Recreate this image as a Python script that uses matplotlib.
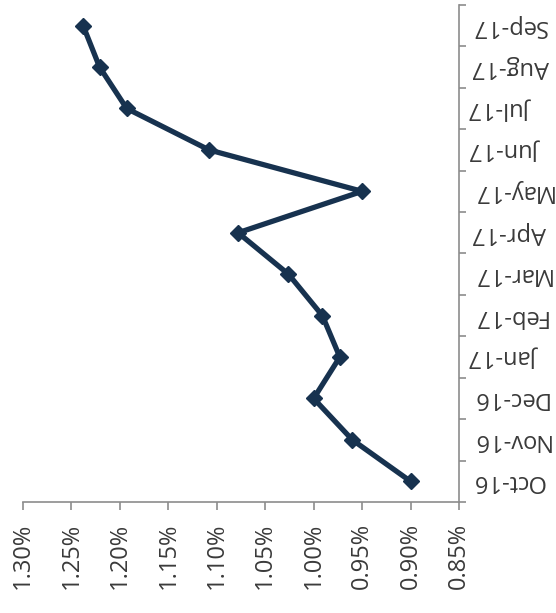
import numpy as np
import matplotlib
matplotlib.use("Agg")
from matplotlib import pyplot as plt
from matplotlib.ticker import FixedLocator

# monthly rate, Oct-16 .. Sep-17
months = ["Oct-16", "Nov-16", "Dec-16", "Jan-17", "Feb-17", "Mar-17",
          "Apr-17", "May-17", "Jun-17", "Jul-17", "Aug-17", "Sep-17"]
rates = [0.90, 0.96, 1.00, 0.973, 0.991, 1.026,
         1.078, 0.95, 1.108, 1.193, 1.221, 1.238]
value_ticks = [1.30, 1.25, 1.20, 1.15, 1.10, 1.05, 1.00, 0.95, 0.90, 0.85]
value_labels = ["%.2f%%" % v for v in value_ticks]

navy = "#17324f"
axis_grey = "#8c8c8c"
text_grey = "#3a3a3a"

plt.rcParams["font.family"] = ["Open Sans", "DejaVu Sans"]

fig = plt.figure(figsize=(5.56, 6.13), dpi=100)
ax = fig.add_axes([0.0414, 0.181, 0.7841, 0.811])

pos = np.arange(len(months))
ax.plot(rates, pos, color=navy, lw=3.8, marker="D", ms=8.5,
        mfc=navy, mec=navy, solid_joinstyle="round")

ax.set_xlim(1.30, 0.85)
ax.set_ylim(-0.5, len(months) - 0.5)

for side in ["top", "left"]:
    ax.spines[side].set_visible(False)
for side in ["bottom", "right"]:
    ax.spines[side].set_color(axis_grey)
    ax.spines[side].set_linewidth(1.2)

# value axis along the bottom, labels turned sideways
ax.set_xticks(value_ticks)
ax.set_xticklabels(value_labels, rotation=90, fontsize=17, color=text_grey)
ax.tick_params(axis="x", direction="out", length=6, width=1.2,
               color=axis_grey, pad=9)

# month axis on the right, labels upside down, ticks between months
ax.yaxis.tick_right()
ax.set_yticks(pos)
ax.set_yticklabels(months, rotation=180, fontsize=17, color=text_grey,
                   va="center")
ax.yaxis.set_minor_locator(FixedLocator(np.arange(-0.5, len(months), 1.0)))
ax.tick_params(axis="y", which="major", length=0, pad=9)
ax.tick_params(axis="y", which="minor", direction="out", length=5,
               width=1.2, color=axis_grey, right=True, left=False)

fig.savefig("out.png", dpi=100, facecolor="white")
